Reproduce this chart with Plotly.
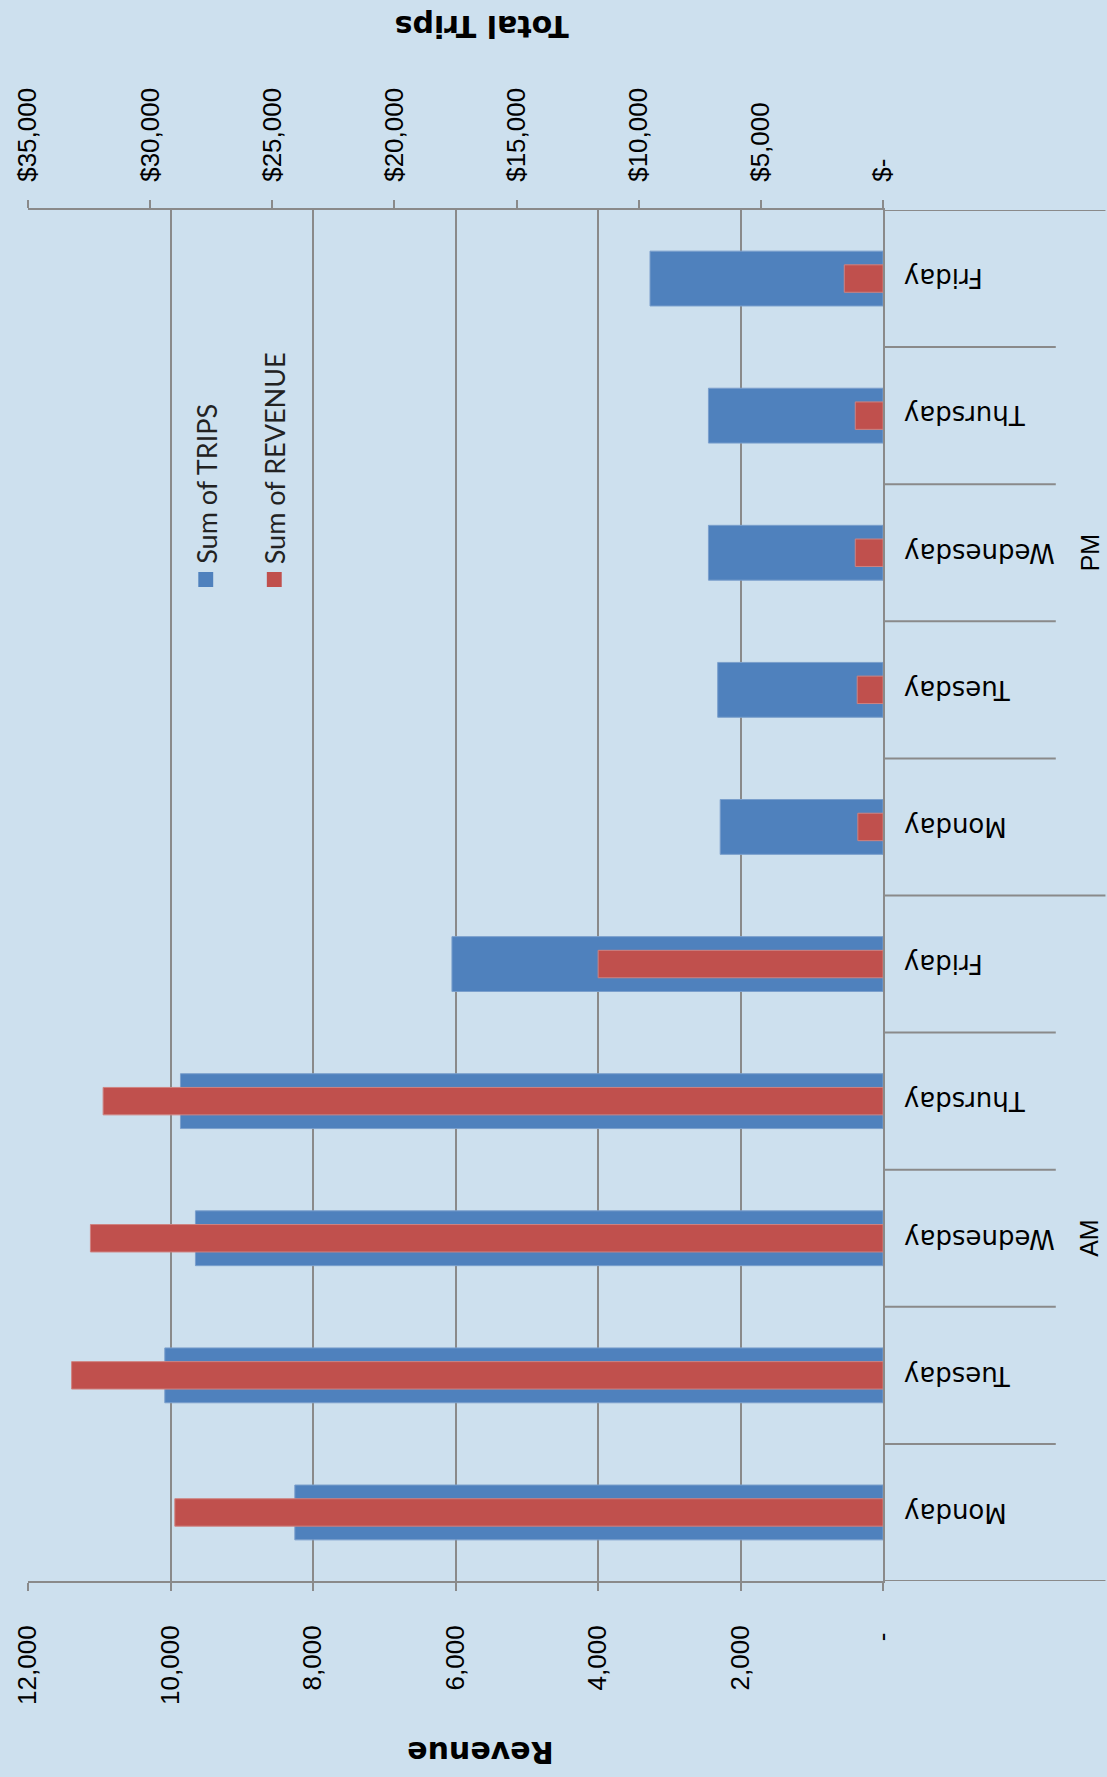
import plotly.graph_objects as go

# ---- data -------------------------------------------------------------
days = ["Monday", "Tuesday", "Wednesday", "Thursday", "Friday"]
periods = ["AM", "PM"]

trips_am = [8255, 10080, 9650, 9860, 6050]
trips_pm = [2285, 2320, 2450, 2450, 3270]
revenue_am = [28990, 33215, 32445, 31925, 11660]
revenue_pm = [1030, 1055, 1135, 1135, 1585]

trip_ticks = [0, 2000, 4000, 6000, 8000, 10000, 12000]
trip_tick_text = ["-\u00a0", "2,000", "4,000", "6,000", "8,000", "10,000", "12,000"]
revenue_ticks = [0, 5000, 10000, 15000, 20000, 25000, 30000, 35000]
revenue_tick_text = ["$-", "$5,000", "$10,000", "$15,000", "$20,000",
                     "$25,000", "$30,000", "$35,000"]

series_names = ["Sum of TRIPS", "Sum of REVENUE"]
axis_titles = ["Revenue", "Total Trips"]

# ---- layout geometry (pixels) -----------------------------------------
W, H = 1107, 1777
ML, MR, MT, MB = 22, 224, 210, 196
PW = W - ML - MR
PH = H - MT - MB

BG = "#CDE0EE"
GRID = "#8A8A8A"
BLUE = "#4F81BD"
RED = "#C0504D"


def xp(px):
    return (px - ML) / PW


def yp(py):
    return (H - MB - py) / PH


# one bar slot per (period, day), AM first, stacked bottom to top
labels = [d for p in periods for d in days]
trips = trips_am + trips_pm
revenue = revenue_am + revenue_pm
pos = list(range(len(labels)))

fig = go.Figure()
fig.add_trace(go.Bar(
    x=trips, y=pos, orientation="h", width=0.4,
    marker=dict(color=BLUE, line=dict(color="#7A9FCC", width=1)),
    name=series_names[0], xaxis="x", yaxis="y", showlegend=False,
))
fig.add_trace(go.Bar(
    x=revenue, y=pos, orientation="h", width=0.2,
    marker=dict(color=RED, line=dict(color="#CF8381", width=1)),
    name=series_names[1], xaxis="x2", yaxis="y", showlegend=False,
))

tick_font = dict(family="Liberation Sans, Arial, sans-serif", size=26, color="#000000")

fig.update_layout(
    width=W, height=H,
    margin=dict(l=ML, r=MR, t=MT, b=MB, pad=0),
    paper_bgcolor=BG, plot_bgcolor=BG,
    barmode="overlay",
    xaxis=dict(
        range=[trip_ticks[-1], 0], tickmode="array",
        tickvals=trip_ticks, ticktext=trip_tick_text, tickangle=-90,
        ticks="outside", ticklen=8, tickcolor=GRID, tickwidth=1.5,
        showgrid=True, gridcolor=GRID, gridwidth=1.5,
        showline=True, linecolor=GRID, linewidth=2,
        zeroline=False, tickfont=tick_font, ticklabelstandoff=24,
    ),
    xaxis2=dict(
        range=[revenue_ticks[-1], 0], overlaying="x", side="top",
        tickmode="array", tickvals=revenue_ticks, ticktext=revenue_tick_text,
        tickangle=-90, ticks="outside", ticklen=8, tickcolor=GRID, tickwidth=1.5,
        showgrid=False, showline=True, linecolor=GRID, linewidth=2,
        zeroline=False, tickfont=tick_font, ticklabelstandoff=13,
    ),
    yaxis=dict(
        range=[-0.5, len(labels) - 0.5], side="right",
        showticklabels=False, showgrid=False, zeroline=False,
        showline=True, linecolor=GRID, linewidth=2, ticks="",
    ),
)

# category separators beside the axis; period boundaries run to the edge
shapes = []
n_am = len(days)
for k in range(len(labels) + 1):
    yb = k - 0.5
    full = k in (0, n_am, len(labels))
    shapes.append(dict(
        type="line", xref="paper", yref="y",
        x0=1, x1=xp(W) if full else xp(1057), y0=yb, y1=yb,
        line=dict(color=GRID, width=2),
    ))

# legend swatches
for i, col in enumerate([BLUE, RED]):
    cx = 201 + i * 69
    shapes.append(dict(
        type="rect", xref="paper", yref="paper",
        x0=xp(cx - 7.5), x1=xp(cx + 7.5), y0=yp(587), y1=yp(572),
        fillcolor=col, line=dict(width=0),
    ))
fig.update_layout(shapes=shapes)

ann = []
# day labels, upside down beside the category axis
for i, lab in enumerate(labels):
    ann.append(dict(
        text=lab, xref="paper", yref="y", x=xp(902), y=i,
        xanchor="left", yanchor="middle", textangle=180, showarrow=False,
        font=dict(family="DejaVu Sans, sans-serif", size=26, color="#000000"),
    ))
# period labels
for j, p in enumerate(periods):
    ann.append(dict(
        text=p, xref="paper", yref="y", x=xp(1091),
        y=j * n_am + (n_am - 1) / 2,
        xanchor="center", yanchor="middle", textangle=-90, showarrow=False,
        font=dict(family="Liberation Sans, Arial, sans-serif", size=25, color="#000000"),
    ))
# legend text
for i, nm in enumerate(series_names):
    ann.append(dict(
        text=nm, xref="paper", yref="paper", x=xp(201 + i * 69), y=yp(566),
        xanchor="center", yanchor="bottom", textangle=-90, showarrow=False,
        font=dict(family="Lato, sans-serif", size=27, color="#222222"),
    ))
# axis titles (upside down)
ann.append(dict(
    text="<b>" + axis_titles[1] + "</b>", xref="paper", yref="paper",
    x=xp(479), y=yp(26), xanchor="center", yanchor="middle",
    textangle=180, showarrow=False,
    font=dict(family="DejaVu Sans, sans-serif", size=30, color="#000000"),
))
ann.append(dict(
    text="<b>" + axis_titles[0] + "</b>", xref="paper", yref="paper",
    x=xp(478), y=yp(1753), xanchor="center", yanchor="middle",
    textangle=180, showarrow=False,
    font=dict(family="DejaVu Sans, sans-serif", size=30, color="#000000"),
))
fig.update_layout(annotations=ann)

fig.write_html("out.html")
